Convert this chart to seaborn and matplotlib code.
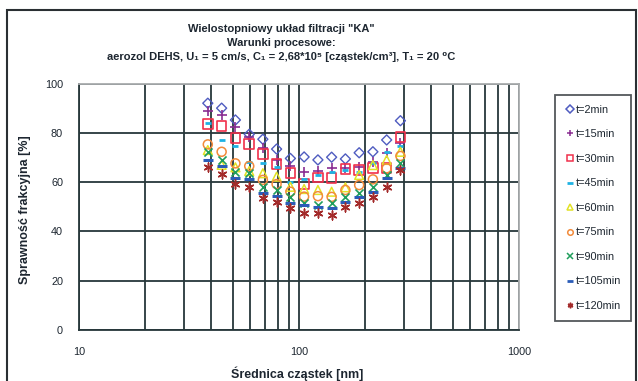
import matplotlib
matplotlib.use("Agg")
import matplotlib.pyplot as plt
from matplotlib.patches import Rectangle
from matplotlib.ticker import LogLocator, FixedLocator, NullFormatter
import seaborn as sns
import pandas as pd

# Particle diameters [nm]
diameters = [38.5, 44.5, 51.4, 59.4, 68.5, 79.1, 91.4, 105.5, 121.9, 140.7,
             162.5, 187.7, 216.7, 250.3, 289.0]

# Fractional efficiency [%] for each filtration time
eff_t2 = [92.0, 90.0, 85.2, 79.4, 77.4, 73.4, 69.6, 70.2, 69.0, 70.1, 69.4, 71.9, 72.3, 77.1, 84.9]
eff_t15 = [89.0, 87.2, 82.5, 78.4, 73.7, 69.0, 66.7, 63.9, 64.4, 65.8, 65.6, 66.0, 68.3, 71.9, 75.7]
eff_t30 = [83.6, 82.7, 78.0, 75.5, 71.4, 67.3, 63.8, 59.2, 61.9, 61.7, 65.2, 64.9, 65.6, 65.6, 78.4]
eff_t45 = [84.1, 77.1, 74.7, 68.3, 67.9, 66.0, 60.2, 61.4, 62.9, 63.9, 65.0, 64.2, 67.6, 72.3, 74.6]
eff_t60 = [73.0, 67.0, 66.0, 64.5, 63.6, 62.2, 58.1, 57.2, 56.8, 56.1, 57.9, 62.9, 66.9, 69.0, 72.3]
eff_t75 = [75.3, 72.3, 67.6, 66.5, 60.9, 59.2, 56.1, 54.1, 54.3, 54.0, 56.8, 58.8, 61.1, 65.6, 70.6]
eff_t90 = [72.3, 68.8, 64.2, 63.6, 57.9, 56.8, 53.8, 51.4, 50.9, 51.4, 53.8, 55.7, 58.1, 62.9, 67.6]
eff_t105 = [69.0, 66.5, 61.5, 61.1, 55.7, 54.4, 51.4, 50.7, 50.0, 49.4, 52.1, 54.1, 56.1, 61.5, 65.6]
eff_t120 = [66.0, 63.4, 59.2, 58.1, 53.4, 52.1, 49.4, 47.6, 47.6, 46.7, 49.8, 51.6, 53.8, 57.9, 64.9]

labels = ["t=2min", "t=15min", "t=30min", "t=45min", "t=60min",
          "t=75min", "t=90min", "t=105min", "t=120min"]
series = [eff_t2, eff_t15, eff_t30, eff_t45, eff_t60,
          eff_t75, eff_t90, eff_t105, eff_t120]

x_ticks = [10, 100, 1000]
x_tick_labels = ["10", "100", "1000"]
y_ticks = [0, 20, 40, 60, 80, 100]

# marker, colour, size, hollow?, linewidth
styles = [
    ("D", "#4f5cc0", 26, True, 1.0),
    ("+", "#8a2d92", 45, False, 1.2),
    ("s", "#f0304c", 48, True, 1.2),
    ("_", "#1eb2e4", 22, False, 2.0),
    ("^", "#e2e226", 40, True, 1.1),
    ("o", "#f28a3a", 42, True, 1.1),
    ("x", "#1f9e5c", 34, False, 1.2),
    ("_", "#2a5cb8", 42, False, 2.2),
    ((6, 2, 0), "#a32a2a", 40, False, 1.1),
]

sns.set_theme(style="white")
plt.rcParams["font.family"] = ["Liberation Sans", "DejaVu Sans"]
grid_col = "#26373a"
text_col = "#1d2630"

fig = plt.figure(figsize=(6.38, 3.81), dpi=100)
ax = fig.add_axes([79 / 638, 1 - 330 / 381, 440 / 638, 246.5 / 381])

handles = []
for lab, vals, (mk, col, size, hollow, lw) in zip(labels, series, styles):
    df = pd.DataFrame({"d": diameters, "eff": vals})
    if hollow:
        sns.scatterplot(data=df, x="d", y="eff", marker=mk, s=size,
                        facecolor="none", edgecolor=col, linewidth=lw,
                        ax=ax, zorder=3)
    else:
        sns.scatterplot(data=df, x="d", y="eff", marker=mk, s=size,
                        color=col, linewidth=lw, ax=ax, zorder=3)
    h = plt.Line2D([], [], linestyle="none", marker=mk,
                   markersize=4.0 if mk != "_" else 4.5,
                   markerfacecolor="none" if hollow else col,
                   markeredgecolor=col,
                   markeredgewidth=1.1 if mk != "_" else 2.0,
                   label=lab)
    handles.append(h)

ax.set_xscale("log")
ax.set_xlim(10, 1000)
ax.set_ylim(0, 100)
ax.set_yticks(y_ticks)
ax.xaxis.set_major_locator(FixedLocator(x_ticks))
ax.xaxis.set_minor_locator(LogLocator(base=10, subs=range(2, 10)))
ax.xaxis.set_minor_formatter(NullFormatter())
ax.set_xticklabels(x_tick_labels)

ax.grid(True, which="major", axis="both", color=grid_col, linewidth=1.3)
ax.grid(True, which="minor", axis="x", color=grid_col, linewidth=1.3)
ax.set_axisbelow(True)

for side in ("left", "bottom"):
    ax.spines[side].set_color(grid_col)
    ax.spines[side].set_linewidth(1.3)
for side in ("top", "right"):
    ax.spines[side].set_color("#a9acae")
    ax.spines[side].set_linewidth(1.3)

ax.tick_params(axis="both", which="major", direction="out", length=4,
               width=1.2, color=grid_col, labelsize=7.8, labelcolor=text_col)
ax.tick_params(axis="y", which="major", pad=7.5)
ax.tick_params(axis="x", which="major", pad=8.5)
ax.tick_params(axis="x", which="minor", bottom=False)

ax.set_xlabel("Średnica cząstek [nm]", fontsize=9, fontweight="bold",
              color=text_col)
ax.set_ylabel("Sprawność frakcyjna [%]", fontsize=9, fontweight="bold",
              color=text_col)
ax.xaxis.set_label_coords(0.495, (330 - 374) / 246.5)
ax.xaxis.label.set_va("center")
ax.yaxis.set_label_coords((25 - 79) / 440, 0.487)
ax.yaxis.label.set_va("center")

# Chart title (three lines)
title_x = 281 / 638
fig.text(title_x, 1 - 29 / 381, 'Wielostopniowy układ filtracji "KA"',
         ha="center", va="center", fontsize=8, fontweight="bold", color=text_col)
fig.text(title_x, 1 - 42.5 / 381, "Warunki procesowe:",
         ha="center", va="center", fontsize=8, fontweight="bold", color=text_col)
fig.text(title_x, 1 - 57 / 381,
         "aerozol DEHS, U₁ = 5 cm/s, C₁ = 2,68*10⁵ [cząstek/cm³], T₁ = 20 ⁰C",
         ha="center", va="center", fontsize=8, fontweight="bold", color=text_col)

leg = ax.legend(handles=handles, loc="upper left",
                bbox_to_anchor=(555 / 638, 1 - 95 / 381),
                bbox_transform=fig.transFigure, frameon=True, fancybox=False,
                fontsize=7.8, labelspacing=1.34, handlelength=1.0,
                handletextpad=0.05, borderpad=0.9, borderaxespad=0)
leg.get_frame().set_edgecolor("#2a2f33")
leg.get_frame().set_linewidth(1.3)
for t in leg.get_texts():
    t.set_color(text_col)

# Outer chart frame
fig.patches.append(Rectangle((7 / 638, -0.05), 629 / 638, 1.05 - 10 / 381,
                             transform=fig.transFigure, fill=False,
                             edgecolor="#2a2f33", linewidth=1.5))

fig.savefig("out.png", dpi=100)
